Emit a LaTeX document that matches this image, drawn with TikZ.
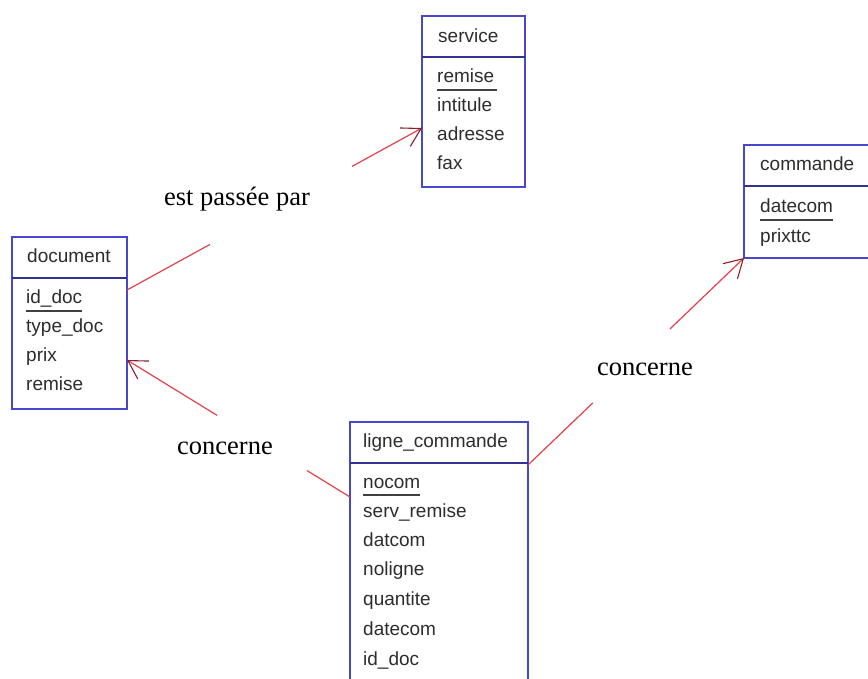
\documentclass[tikz,border=0pt]{standalone}
\usepackage{fontspec}
\setmainfont{Liberation Serif}
\newfontfamily\boxfont{Liberation Sans}
\usetikzlibrary{arrows.meta,calc}
\definecolor{boxblue}{RGB}{72,72,205}
\definecolor{sepblue}{RGB}{50,50,150}
\definecolor{linered}{RGB}{228,64,74}
\definecolor{tipred}{RGB}{140,30,40}
\definecolor{txtgray}{RGB}{45,45,45}
\begin{document}
\begin{tikzpicture}[x=1pt,y=-1pt,
  box/.style={draw=boxblue,line width=1.4pt,fill=white,anchor=north west,inner sep=0pt,outer sep=0pt},
  fld/.style={anchor=base west,inner sep=0pt,text=txtgray,font=\boxfont\fontsize{19}{22}\selectfont},
  lbl/.style={anchor=base,inner sep=0pt,font=\fontsize{26.5}{30}\selectfont},
  conn/.style={draw=linered,line width=1.2pt},
  tiparrow/.style={-{Straight Barb[length=18pt,width=21pt,color=tipred,line width=1.1pt]}},
  pkline/.style={draw=black!75,line width=1.2pt},
  sepline/.style={draw=sepblue,line width=1.4pt}]
\clip (0,0) rectangle (868,679);
\fill[white] (0,0) rectangle (868,679);

% ---------- service
\node[box,minimum width=103pt,minimum height=171pt] (svc) at (422,16) {};
\draw[sepline] ($(svc.north west)+(0,41)$) -- ($(svc.north east)+(0,41)$);
\node[fld] (svch) at (438,43) {service};
\node[fld] (svc1) at (437,83) {remise};
\node[fld] (svc2) at (437,112) {intitule};
\node[fld] (svc3) at (437,141) {adresse};
\node[fld] (svc4) at (437,170) {fax};
\draw[pkline] ($(svc1.base west)+(0,7)$) -- ($(svc1.base east)+(3,7)$);

% ---------- commande
\node[box,minimum width=150pt,minimum height=113pt] (cmd) at (744,145) {};
\draw[sepline] ($(cmd.north west)+(0,41)$) -- ($(cmd.north east)+(0,41)$);
\node[fld] (cmdh) at (760,171) {commande};
\node[fld] (cmd1) at (760,213) {datecom};
\node[fld] (cmd2) at (760,243) {prixttc};
\draw[pkline] ($(cmd1.base west)+(0,7)$) -- ($(cmd1.base east)+(0,7)$);

% ---------- document
\node[box,minimum width=115pt,minimum height=172pt] (doc) at (12,237) {};
\draw[sepline] ($(doc.north west)+(0,41)$) -- ($(doc.north east)+(0,41)$);
\node[fld] (doch) at (27,263) {document};
\node[fld] (doc1) at (26,304) {id\_doc};
\node[fld] (doc2) at (26,333) {type\_doc};
\node[fld] (doc3) at (26,361) {prix};
\node[fld] (doc4) at (26,390) {remise};
\draw[pkline] ($(doc1.base west)+(0,7)$) -- ($(doc1.base east)+(0,7)$);

% ---------- ligne_commande
\node[box,minimum width=178pt,minimum height=290pt] (lc) at (350,422) {};
\draw[sepline] ($(lc.north west)+(0,41)$) -- ($(lc.north east)+(0,41)$);
\node[fld] (lch) at (363,447) {ligne\_commande};
\node[fld] (lc1) at (363,488) {nocom};
\node[fld] (lc2) at (363,517) {serv\_remise};
\node[fld] (lc3) at (363,546) {datcom};
\node[fld] (lc4) at (363,575) {noligne};
\node[fld] (lc5) at (363,605) {quantite};
\node[fld] (lc6) at (363,635) {datecom};
\node[fld] (lc7) at (363,665) {id\_doc};
\draw[pkline] ($(lc1.base west)+(0,7)$) -- ($(lc1.base east)+(0,7)$);

% ---------- connectors
% document -> service : est passee par
\coordinate (p1a) at ($(doc.north east)+(0,53)$);
\coordinate (p1b) at ($(svc.north west)+(0,112)$);
\coordinate (g1a) at ($(p1a)!0.281!(p1b)$);
\coordinate (g1b) at ($(p1a)!0.763!(p1b)$);
\draw[conn] (p1a) -- (g1a);
\draw[conn,tiparrow] (g1b) -- (p1b);
\node[lbl] (l1) at (237,206) {est passée par};

% ligne_commande -> document : concerne
\coordinate (p2a) at ($(lc.north west)+(0,75)$);
\coordinate (p2b) at ($(doc.north east)+(0,123)$);
\coordinate (g2a) at ($(p2a)!0.193!(p2b)$);
\coordinate (g2b) at ($(p2a)!0.596!(p2b)$);
\draw[conn] (p2a) -- (g2a);
\draw[conn,tiparrow] (g2b) -- (p2b);
\node[lbl] (l2) at (225,454) {concerne};

% ligne_commande -> commande : concerne
\coordinate (p3a) at ($(lc.north east)+(0,43)$);
\coordinate (p3b) at (cmd.south west);
\coordinate (g3a) at ($(p3a)!0.30!(p3b)$);
\coordinate (g3b) at ($(p3a)!0.657!(p3b)$);
\draw[conn] (p3a) -- (g3a);
\draw[conn,tiparrow] (g3b) -- (p3b);
\node[lbl] (l3) at (645,375) {concerne};
\end{tikzpicture}
\end{document}
